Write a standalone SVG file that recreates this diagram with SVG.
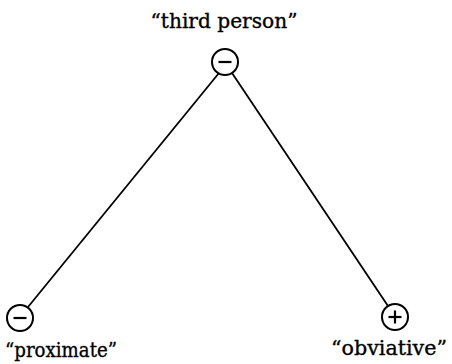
<svg xmlns="http://www.w3.org/2000/svg" width="452" height="364" viewBox="0 0 452 364">
<style>
.nc{fill:#fff;stroke:#000;stroke-width:2}
.sign{stroke:#000;stroke-width:2.2;fill:none}
.lbl{font-family:"DejaVu Serif","Liberation Serif",serif;font-size:20px;fill:#000;stroke:#000;stroke-width:0.35}
.edge{stroke:#000;stroke-width:1.8;fill:none}
</style>
<rect width="452" height="364" fill="#fff"/>
<g id="connectors">
<line class="edge" x1="219" y1="73" x2="28" y2="307"/>
<line class="edge" x1="232" y1="73" x2="388" y2="306"/>
</g>
<g id="node-third">
<text class="lbl" x="224" y="28" text-anchor="middle" textLength="147" lengthAdjust="spacingAndGlyphs">“third person”</text>
<circle class="nc" cx="225" cy="62" r="13"/>
<line class="sign" x1="218.5" y1="62" x2="231.5" y2="62"/>
</g>
<g id="node-proximate">
<circle class="nc" cx="20" cy="318" r="13"/>
<line class="sign" x1="13.5" y1="318" x2="26.5" y2="318"/>
<text class="lbl" x="61" y="357" text-anchor="middle" textLength="112" lengthAdjust="spacingAndGlyphs">“proximate”</text>
</g>
<g id="node-obviative">
<circle class="nc" cx="395" cy="317" r="13"/>
<line class="sign" x1="388.5" y1="317" x2="401.5" y2="317"/>
<line class="sign" x1="395" y1="310.5" x2="395" y2="323.5"/>
<text class="lbl" x="389" y="355" text-anchor="middle" textLength="116" lengthAdjust="spacingAndGlyphs">“obviative”</text>
</g>
</svg>
